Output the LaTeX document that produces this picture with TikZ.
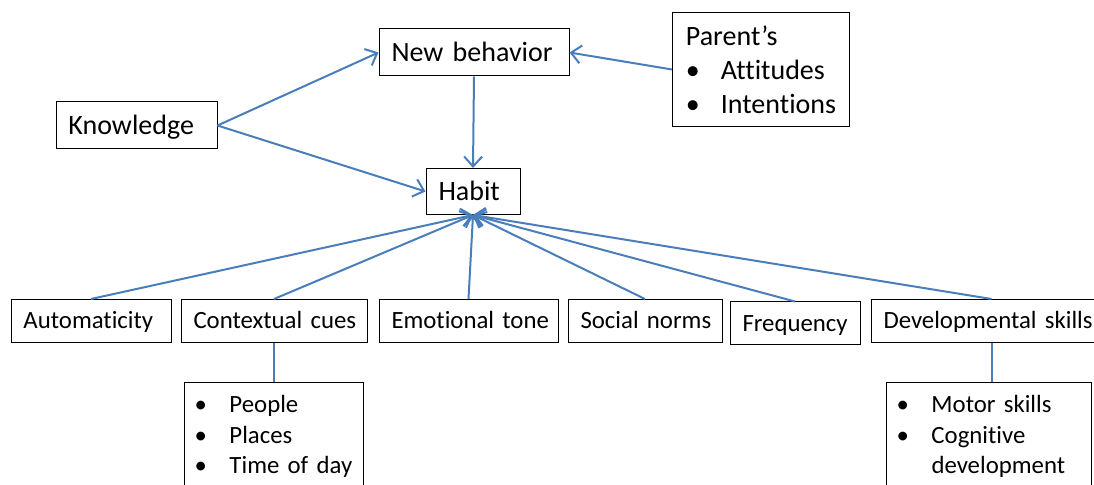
\documentclass[tikz,border=0pt]{standalone}
\usepackage{fontspec}
\setmainfont{Carlito}[Ligatures=NoCommon]
\usetikzlibrary{arrows.meta,positioning}
\definecolor{linkblue}{HTML}{4A7EBB}
\newcommand{\dotitem}[1]{\makebox[17.5pt][l]{\textbullet}#1}

\begin{document}
\begin{tikzpicture}[x=0.5pt,y=-0.5pt,font=\fontsize{14}{17}\selectfont,
  box/.style={draw,line width=0.5pt,align=left,inner xsep=6.25pt,inner ysep=0pt,minimum height=23.5pt,text height=10.5pt,text depth=1pt},
  smallbox/.style={box,minimum height=21.5pt,text height=9.4pt,text depth=1.4pt,font=\fontsize{12.4}{15.25}\selectfont},
  listbox/.style={draw,line width=0.5pt,anchor=north west,align=left,inner xsep=5pt,inner ysep=6.5pt,text depth=40pt,font=\fontsize{12.4}{15.25}\selectfont},
  arr/.style={-{Straight Barb[length=5pt,width=9pt]},linkblue,line width=1pt},
  link/.style={linkblue,line width=1pt}]
\useasboundingbox (0,0) rectangle (1094,485);
% top part
\node[box,text width=68pt] (know) at (136.5,125.5) {Knowledge};
\node[box,text width=82.5pt] (newb) at (474,52.5) {New~behavior};
\node[box,text width=34.5pt,minimum height=23pt] (habit) at (473,191.5) {Habit};
\node[draw,line width=0.5pt,anchor=north west,align=left,inner xsep=6.5pt,inner ysep=0pt,minimum width=88.5pt,minimum height=57pt] (parent) at (672,12) {Parent’s\\\dotitem{Attitudes}\\\dotitem{Intentions}};
% row of factors
\node[smallbox,text width=67.5pt] (auto) at (91,321) {Automaticity};
\node[smallbox,text width=80.5pt] (ctx) at (274,321) {Contextual~cues};
\node[smallbox,text width=77pt] (emo) at (468.5,321) {Emotional~tone};
\node[smallbox,text width=64.5pt] (soc) at (645,321) {Social~norms};
\node[smallbox,text width=52.5pt] (freq) at (795,323.5) {Frequency};
\node[smallbox,text width=108pt] (dev) at (991.5,321) {Developmental~skills};
% sub lists
\node[listbox,text width=79.5pt] (ctxsub) at (184,382) {\dotitem{People}\\\dotitem{Places}\\\dotitem{Time of day}};
\node[listbox,text width=92.5pt] (devsub) at (886,382) {\dotitem{Motor skills}\\\dotitem{Cognitive}\\\hspace*{17.5pt}development};
% connectors
\draw[arr] (know.east) -- (newb.west);
\draw[arr] (know.east) -- (habit.west);
\draw[arr] (newb.south) -- (habit.north);
\draw[arr] (parent.west) -- (newb.east);
\foreach \n in {auto,ctx,emo,soc,freq,dev}
  \draw[arr] (\n.north) -- (habit.south);
\draw[link] (ctx.south) -- (ctx.south |- ctxsub.north);
\draw[link] (dev.south) -- (dev.south |- devsub.north);
\end{tikzpicture}
\end{document}
